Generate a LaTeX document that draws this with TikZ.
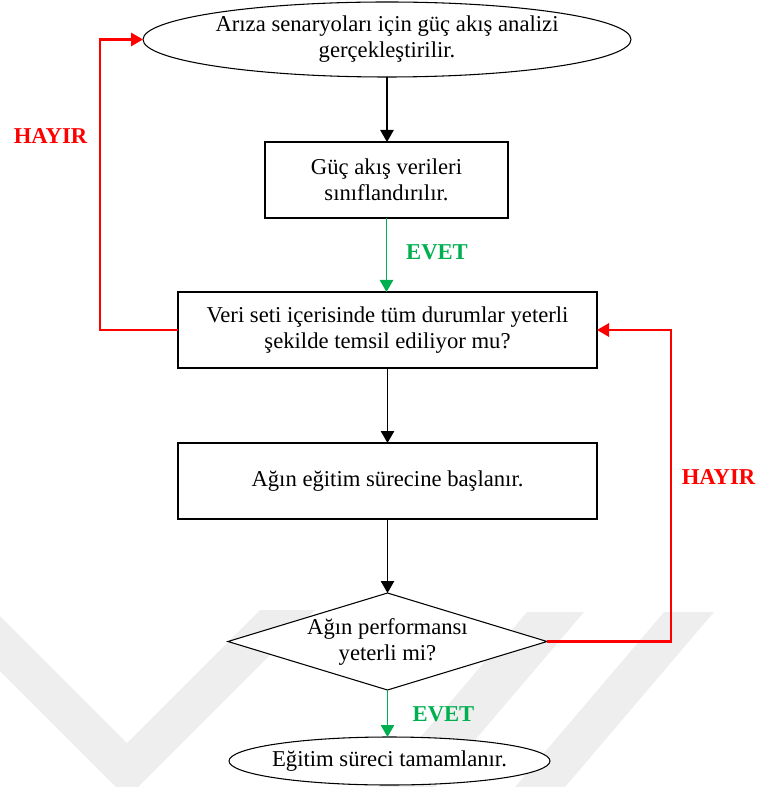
\documentclass[tikz,border=0pt]{standalone}
\usepackage{fontspec}
\setmainfont{Liberation Serif}
\usetikzlibrary{shapes.geometric,arrows.meta,shadows}
\definecolor{evetgreen}{HTML}{00B050}
\definecolor{hayirred}{HTML}{FF0000}
\definecolor{wmgray}{HTML}{EEEEEE}
\begin{document}
\begin{tikzpicture}[x=0.75pt,y=-0.75pt,
  font=\fontsize{17}{19.5}\selectfont,
  base/.style={draw=black, line width=0.8pt, fill=white, align=center,
    inner sep=0pt, outer sep=0pt},
  procbox/.style={base, rectangle, minimum height=57pt,
    drop shadow={shadow xshift=0.5pt, shadow yshift=-1pt,
      fill=blue!40!gray, opacity=0.12}},
  terminal/.style={base, ellipse},
  decision/.style={base, diamond},
  plain/.style={align=center, inner sep=0pt},
  tip/.style={-{Triangle[length=9pt,width=10pt]}},
  flow/.style={draw=black, line width=1.2pt, tip},
  yes/.style={draw=evetgreen, line width=1.2pt, tip},
  no/.style={draw=hayirred, line width=1.6pt, tip},
  yeslbl/.style={text=evetgreen, font=\fontsize{17}{19.5}\selectfont\bfseries, inner sep=0pt},
  nolbl/.style={text=hayirred, font=\fontsize{17}{19.5}\selectfont\bfseries, inner sep=0pt}
]
\useasboundingbox (0,0) rectangle (757,787);

% light background emblem
\begin{scope}
  \clip (0,0) rectangle (757,787);
  \fill[wmgray] (-61,610) -- (-6,610) -- (127,743) -- (260,610) -- (315,610) -- (127,798) -- cycle;
  \fill[wmgray] (527,612) -- (584,612) -- (424,800) -- (367,800) -- cycle;
  \fill[wmgray] (664,612) -- (714,612) -- (554,800) -- (504,800) -- cycle;
\end{scope}

% nodes
\node[terminal, minimum width=366pt, minimum height=56.25pt] (start) at (387,39.5) {};
\node[plain] (starttext) at (start.center)
  {Arıza senaryoları için güç akış analizi\\gerçekleştirilir.};
\node[procbox, minimum width=182.25pt] (classify) at (386.5,180)
  {Güç akış verileri\\sınıflandırılır.};
\node[procbox, minimum width=314.25pt] (check) at (387.5,330)
  {Veri seti içerisinde tüm durumlar yeterli\\şekilde temsil ediliyor mu?};
\node[procbox, minimum width=314.25pt] (train) at (387.5,481)
  {Ağın eğitim sürecine başlanır.};
\node[decision, minimum width=239.25pt, minimum height=72.75pt] (perf) at (387.5,641.5) {};
\node[plain] (perftext) at (perf.center) {Ağın performansı\\yeterli mi?};
\node[terminal, minimum width=240.75pt, minimum height=36pt] (done) at (389.5,761) {};
\node[plain] (donetext) at (done.center) {Eğitim süreci tamamlanır.};

% connector labels
\node[nolbl] (noleft) at (50.5,136) {HAYIR};
\node[nolbl] (noright) at (718.5,477) {HAYIR};
\node[yeslbl] (yestop) at (437,252) {EVET};
\node[yeslbl] (yesbottom) at (443.5,714) {EVET};

% connectors
\draw[flow] (start.south) -- (start.south |- classify.north);
\draw[yes] (classify.south) -- (classify.south |- check.north);
\draw[flow] (check.south) -- (train.north);
\draw[flow] (train.south) -- (perf.north);
\draw[yes] (perf.south) -- (perf.south |- done.north);
\draw[no] (check.west) -- ++(-78,0) |- (start.west);
\draw[no] (perf.east) -- ++(124,0) |- (check.east);
\end{tikzpicture}
\end{document}
